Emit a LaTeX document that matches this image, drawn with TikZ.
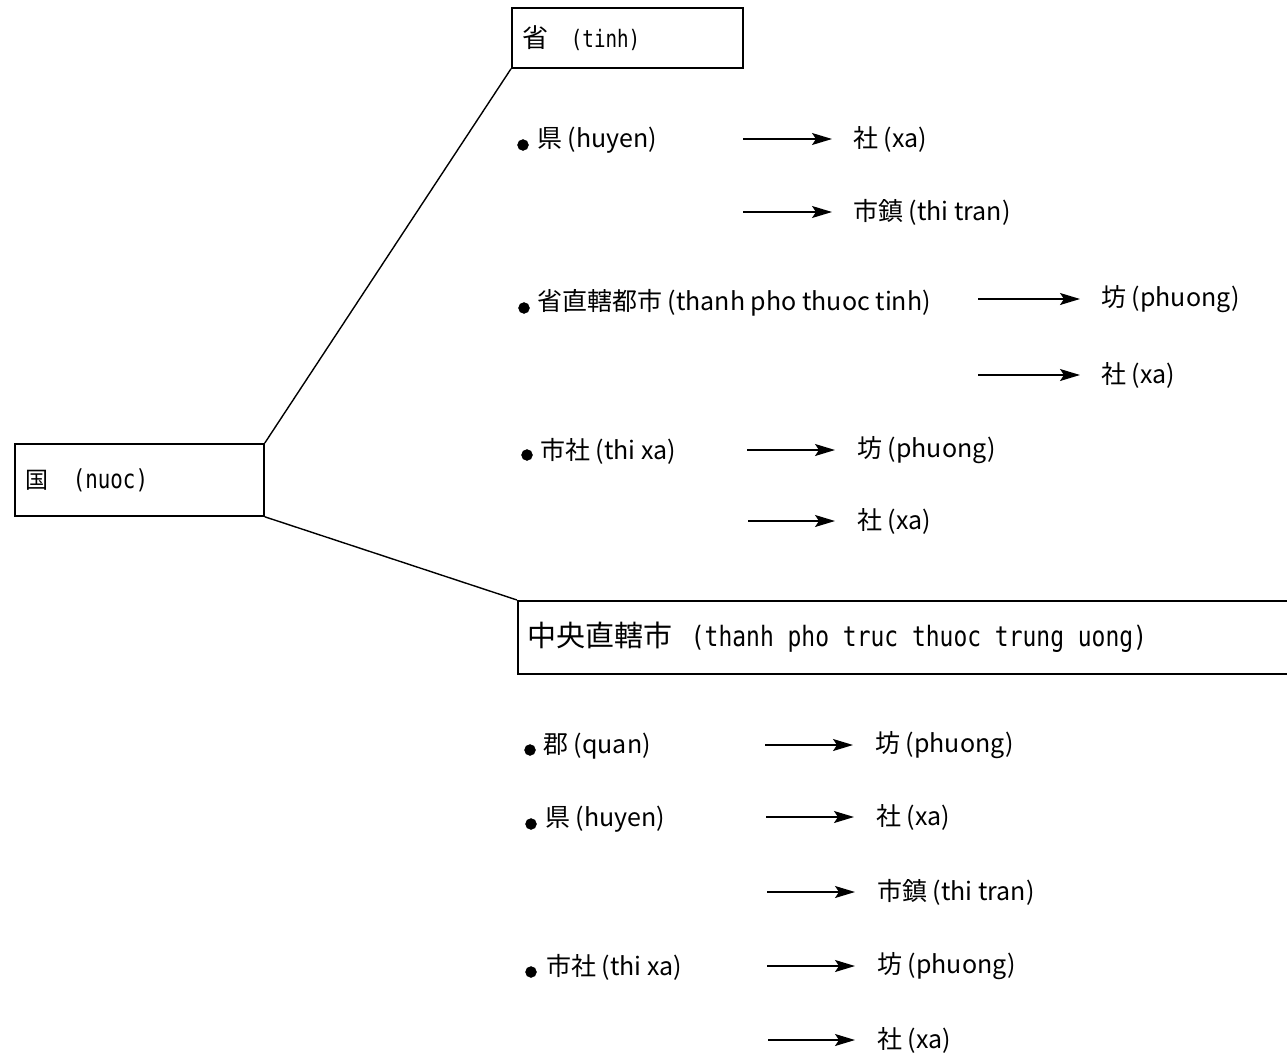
\documentclass[tikz,border=0pt]{standalone}
\usepackage{fontspec}
\setmainfont{Noto Sans CJK JP}
\newfontfamily\monof{DejaVu Sans Mono}
\usetikzlibrary{arrows.meta}
\newcommand{\bxlatin}[3]{\scalebox{#1}[1]{\monof\fontsize{#2}{#2}\selectfont #3}}
\tikzset{
  box/.style={draw, line width=1.8pt, rectangle, inner sep=0pt, anchor=north west, align=left},
  item/.style={anchor=west, inner sep=0pt, font=\fontsize{25}{28}\selectfont},
  leaf/.style={anchor=west, inner sep=0pt, font=\fontsize{25}{28}\selectfont},
  link/.style={line width=1.4pt},
  arr/.style={line width=1.4pt, -{Stealth[length=20pt,width=12pt,inset=4pt]}},
  dot/.style={circle, fill=black, draw=black, inner sep=0pt, minimum size=11pt},
}
\begin{document}
\begin{tikzpicture}[x=1pt,y=-1pt]
\useasboundingbox (0,0) rectangle (1287,1054);

% boxes
\node[box, text width=209pt, inner xsep=11pt, minimum height=60pt] (sheng) at (511,7)
  {\fontsize{26}{28}\selectfont 省\hspace{22pt}\bxlatin{0.8}{24}{(tinh)}};
\node[box, text width=227pt, inner xsep=11pt, minimum height=72pt] (guo) at (14,443)
  {\fontsize{23}{28}\selectfont 国\hspace{24pt}\bxlatin{0.8}{26}{(nuoc)}};
\node[box, text width=758pt, inner xsep=10pt, minimum height=73pt] (zx) at (517,600)
  {\fontsize{29}{32}\selectfont 中央直轄市\hspace{18pt}\bxlatin{0.82}{28}{(thanh\hspace{0.602em}pho\hspace{0.602em}truc\hspace{0.602em}thuoc\hspace{0.602em}trung\hspace{0.602em}uong)}};

\draw[link] (guo.north east) -- (sheng.south west);
\draw[link] (guo.south east) -- (zx.north west);

% province part
\node[dot] (b1) at (523,145) {};
\node[item] (i1) at (537,140) {県 (huyen)};
\coordinate (s1) at (743,139);
\node[leaf] (t1) at (853,139) {社 (xa)};
\draw[arr, shorten >=21pt] (s1) -- (t1.west);
\coordinate (s2) at (743,212);
\node[leaf] (t2) at (853,212) {市鎮 (thi tran)};
\draw[arr, shorten >=21pt] (s2) -- (t2.west);

\node[dot] (b2) at (524,308) {};
\node[item] (i2) at (537,303) {省直轄都市 (thanh pho thuoc tinh)};
\coordinate (s3) at (978,299);
\node[leaf] (t3) at (1101,299) {坊 (phuong)};
\draw[arr, shorten >=21pt] (s3) -- (t3.west);
\coordinate (s4) at (978,375);
\node[leaf] (t4) at (1101,375) {社 (xa)};
\draw[arr, shorten >=21pt] (s4) -- (t4.west);

\node[dot] (b3) at (527,455) {};
\node[item] (i3) at (540,451) {市社 (thi xa)};
\coordinate (s5) at (747,450);
\node[leaf] (t5) at (857,450) {坊 (phuong)};
\draw[arr, shorten >=22pt] (s5) -- (t5.west);
\coordinate (s6) at (748,521);
\node[leaf] (t6) at (857,521) {社 (xa)};
\draw[arr, shorten >=22pt] (s6) -- (t6.west);

% central city part
\node[dot] (b4) at (530,750) {};
\node[item] (i4) at (543,746) {郡 (quan)};
\coordinate (s7) at (765,745);
\node[leaf] (t7) at (875,745) {坊 (phuong)};
\draw[arr, shorten >=22pt] (s7) -- (t7.west);

\node[dot] (b5) at (531,824) {};
\node[item] (i5) at (545,819) {県 (huyen)};
\coordinate (s8) at (766,817);
\node[leaf] (t8) at (876,817) {社 (xa)};
\draw[arr, shorten >=22pt] (s8) -- (t8.west);
\coordinate (s9) at (767,892);
\node[leaf] (t9) at (877,892) {市鎮 (thi tran)};
\draw[arr, shorten >=22pt] (s9) -- (t9.west);

\node[dot] (b6) at (531,972) {};
\node[item] (i6) at (546,967) {市社 (thi xa)};
\coordinate (s10) at (767,966);
\node[leaf] (t10) at (877,966) {坊 (phuong)};
\draw[arr, shorten >=22pt] (s10) -- (t10.west);
\coordinate (s11) at (768,1040);
\node[leaf] (t11) at (877,1040) {社 (xa)};
\draw[arr, shorten >=22pt] (s11) -- (t11.west);
\end{tikzpicture}
\end{document}
